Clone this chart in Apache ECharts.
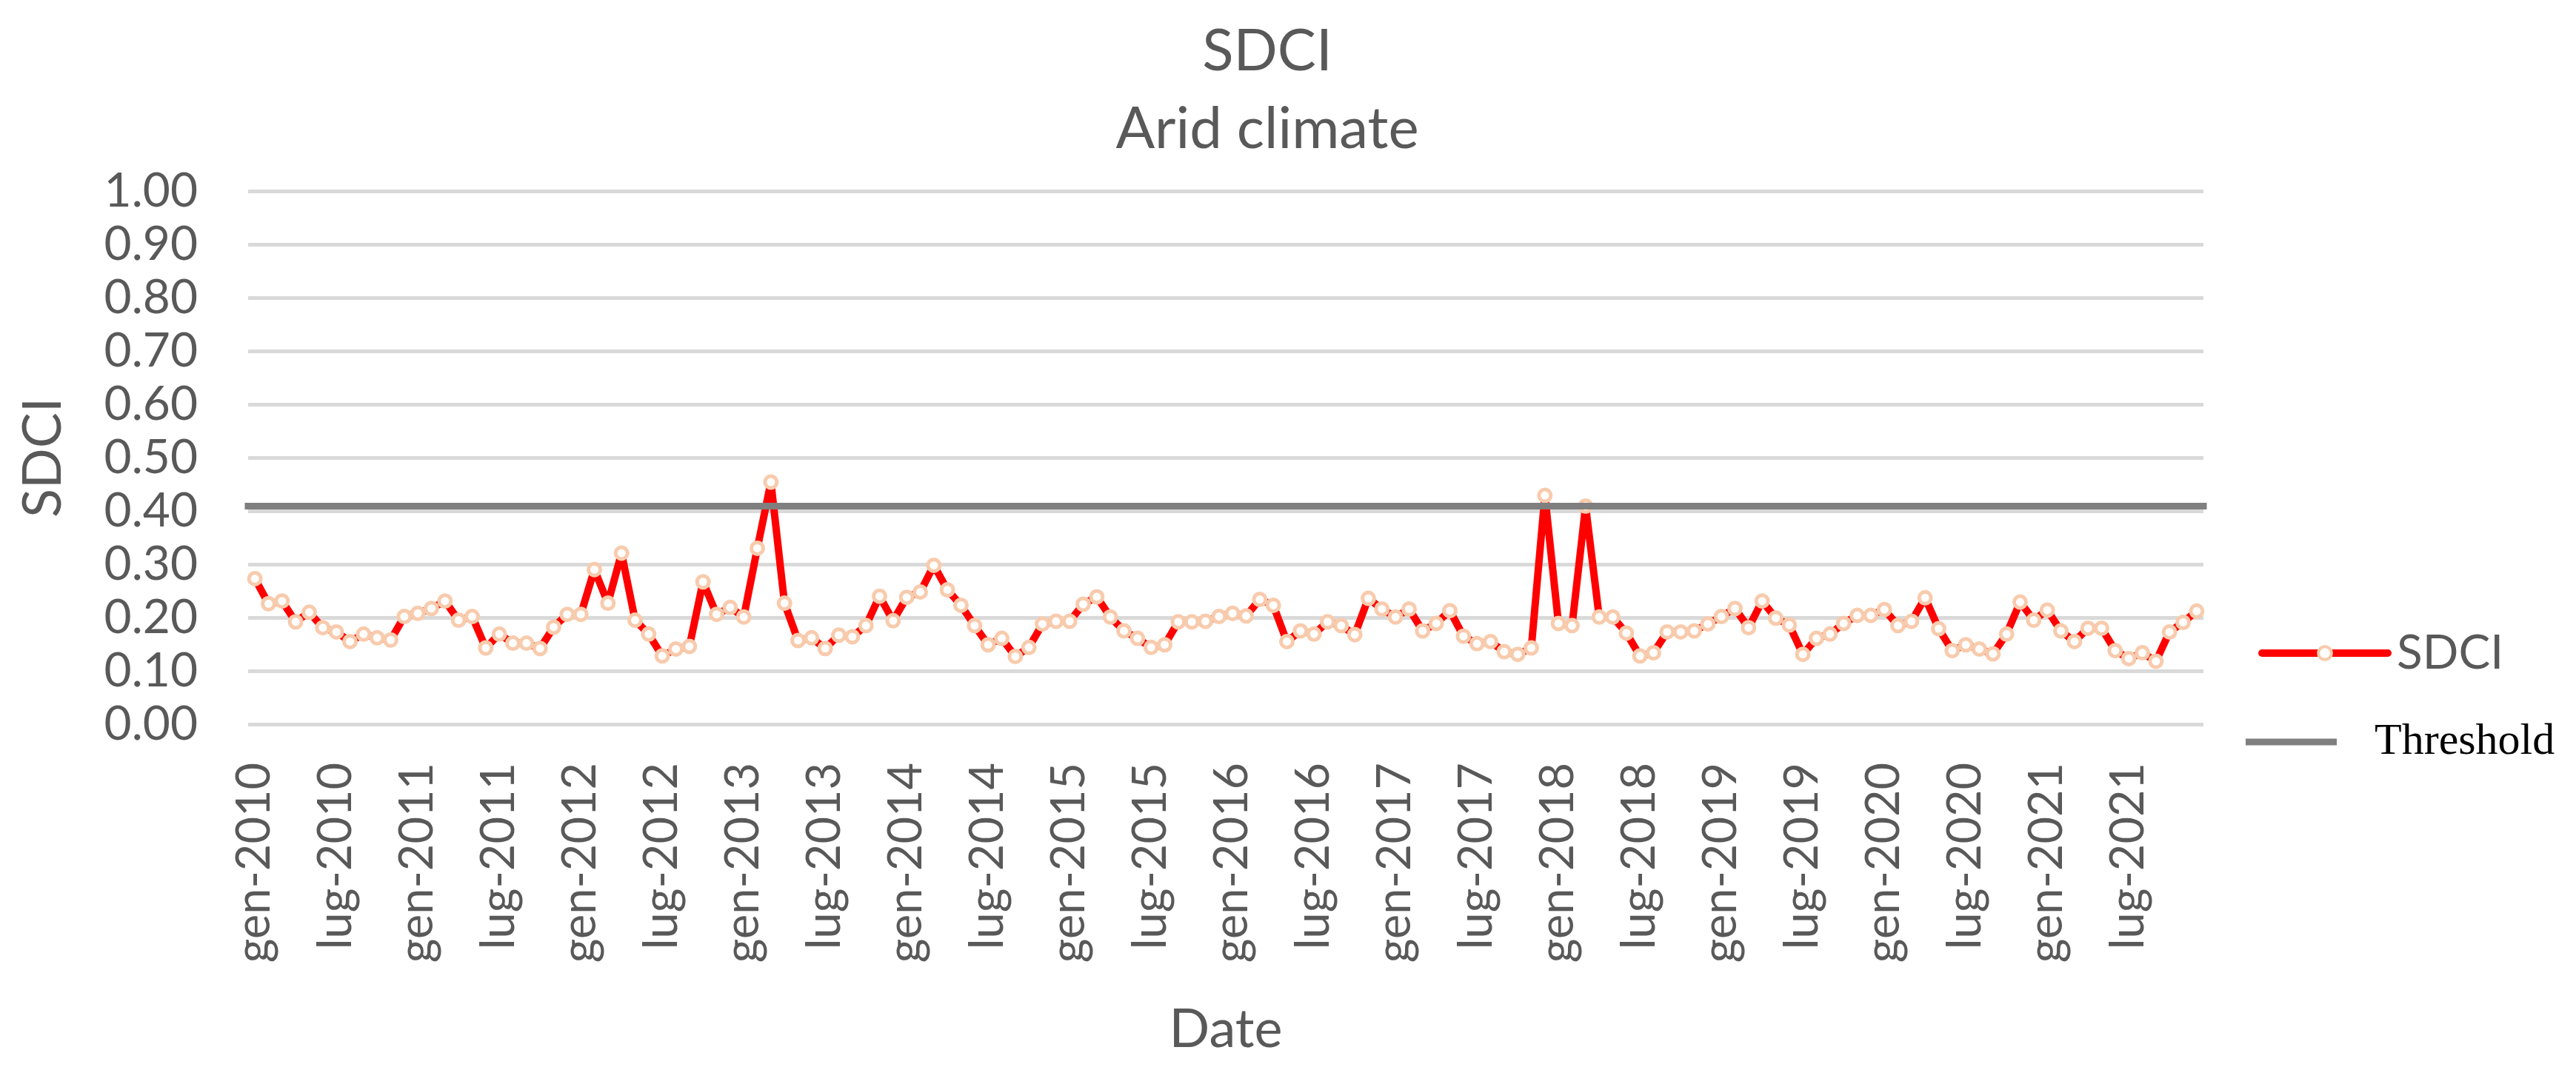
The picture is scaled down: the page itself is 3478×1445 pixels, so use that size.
<!DOCTYPE html>
<html>
<head>
<meta charset="utf-8">
<script src="https://cdn.jsdelivr.net/npm/echarts@6/dist/echarts.min.js"></script>
<style>html,body{margin:0;padding:0;background:#fff}#c{width:3478px;height:1445px}</style>
</head>
<body>
<div id="c"></div>
<script>
const MONTHS = ['gen','feb','mar','apr','mag','giu','lug','ago','set','ott','nov','dic'];
const YEARS = [2010,2011,2012,2013,2014,2015,2016,2017,2018,2019,2020,2021];
const SDCI = [
0.273,0.226,0.231,0.192,0.210,0.181,0.173,0.155,0.169,0.162,0.158,0.202,
0.208,0.217,0.231,0.195,0.202,0.143,0.169,0.152,0.152,0.142,0.182,0.206,
0.206,0.290,0.227,0.321,0.195,0.169,0.128,0.141,0.146,0.267,0.206,0.219,
0.201,0.330,0.454,0.227,0.157,0.162,0.142,0.167,0.164,0.185,0.240,0.194,
0.238,0.248,0.298,0.252,0.223,0.185,0.149,0.161,0.127,0.144,0.188,0.193,
0.193,0.225,0.239,0.201,0.175,0.161,0.144,0.149,0.192,0.192,0.193,0.202,
0.208,0.203,0.234,0.223,0.155,0.175,0.169,0.192,0.185,0.168,0.236,0.216,
0.201,0.216,0.175,0.189,0.213,0.165,0.151,0.155,0.136,0.131,0.143,0.429,
0.189,0.185,0.409,0.201,0.201,0.171,0.128,0.134,0.173,0.173,0.175,0.188,
0.202,0.217,0.181,0.231,0.199,0.186,0.131,0.161,0.169,0.189,0.204,0.204,
0.215,0.185,0.193,0.237,0.179,0.138,0.149,0.141,0.132,0.169,0.229,0.195,
0.214,0.175,0.155,0.180,0.180,0.138,0.123,0.134,0.118,0.173,0.191,0.212
];
const THRESHOLD = 0.405;
const Y_MIN = 0, Y_MAX = 1, Y_STEP = 0.1;

const CATEGORIES = [];
YEARS.forEach(y => MONTHS.forEach(m => CATEGORIES.push(m + '-' + y)));

const FONT = 'Lato';
const GREY = '#595959';
const chart = echarts.init(document.getElementById('c'), null, {renderer: 'canvas'});
chart.setOption({
  animation: false,
  backgroundColor: '#ffffff',
  title: [
    {text: 'SDCI', left: 1706, top: 26, textAlign: 'center',
     textStyle: {fontFamily: FONT, fontSize: 78, fontWeight: 'normal', color: GREY}},
    {text: 'Arid climate', left: 1706, top: 131, textAlign: 'center',
     textStyle: {fontFamily: FONT, fontSize: 78, fontWeight: 'normal', color: GREY}}
  ],
  grid: {left: 335, right: 503, top: 258, bottom: 467, containLabel: false},
  legend: [
    {data: [{name: 'SDCI',
             lineStyle: {color: '#FF0000', width: 10, cap: 'round'},
             itemStyle: {color: '#FFFFFF', borderColor: '#F8CBAD', borderWidth: 4}}],
     left: 3049, top: 850, orient: 'vertical', padding: 0,
     itemWidth: 170, itemHeight: 22,
     textStyle: {fontFamily: FONT, fontSize: 64, color: GREY, padding: [0, 0, 0, 7]}},
    {data: [{name: 'Threshold', icon: 'rect', itemStyle: {color: '#7F7F7F'}}],
     left: 3032, top: 972, orient: 'vertical', padding: 0,
     itemWidth: 123, itemHeight: 9,
     textStyle: {fontFamily: 'Liberation Serif', fontSize: 60, color: '#000000', padding: [0, 0, 0, 46]}}
  ],
  xAxis: {
    type: 'category', data: CATEGORIES, boundaryGap: true,
    name: 'Date', nameLocation: 'middle', nameGap: 377,
    nameTextStyle: {fontFamily: FONT, fontSize: 72, color: GREY},
    axisLine: {show: false}, axisTick: {show: false},
    axisLabel: {interval: 5, rotate: 90, margin: 52, fontFamily: FONT, fontSize: 63, color: GREY},
    splitLine: {show: false}
  },
  yAxis: {
    type: 'value', min: Y_MIN, max: Y_MAX, interval: Y_STEP,
    name: 'SDCI', nameLocation: 'middle', nameGap: 240, nameRotate: 90,
    nameTextStyle: {fontFamily: FONT, fontSize: 72, color: GREY},
    axisLine: {show: false}, axisTick: {show: false},
    axisLabel: {margin: 68, fontFamily: FONT, fontSize: 64, color: GREY,
      formatter: v => v.toFixed(2)},
    splitLine: {show: true, lineStyle: {color: '#D9D9D9', width: 5}}
  },
  series: [
    {
      name: 'SDCI', type: 'line', data: SDCI,
      symbol: 'circle', symbolSize: 16, showAllSymbol: true,
      lineStyle: {color: '#FF0000', width: 10},
      itemStyle: {color: '#FFFFFF', borderColor: '#F8CBAD', borderWidth: 5},
      z: 2
    },
    {
      name: 'Threshold', type: 'line', data: [],
      symbol: 'none',
      lineStyle: {color: '#7F7F7F', width: 9},
      itemStyle: {color: '#7F7F7F'},
      markLine: {
        silent: true, symbol: ['none', 'none'], label: {show: false},
        lineStyle: {color: '#7F7F7F', width: 9, type: 'solid', cap: 'square'},
        data: [{yAxis: THRESHOLD}]
      },
      z: 5
    }
  ]
});
</script>
</body>
</html>
